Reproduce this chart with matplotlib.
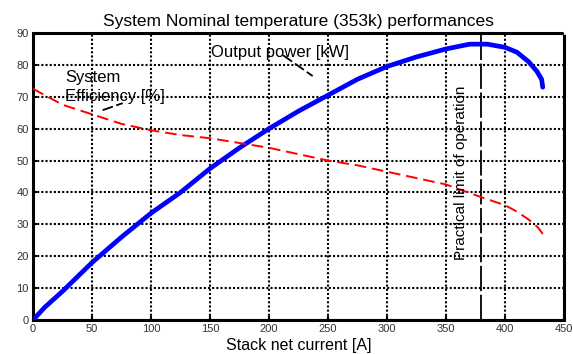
import matplotlib
matplotlib.use("Agg")
import matplotlib.pyplot as plt
import numpy as np

# Output power [kW] vs stack net current [A]
power_current = [0, 10, 25, 50, 75, 100, 125, 150, 175, 200, 225, 250, 275,
                 300, 325, 350, 370, 385, 400, 410, 420, 427, 431, 432]
power_kw = [0, 4, 9, 18, 26, 33.5, 40, 47.5, 54, 60, 65.5, 70.5, 75.5,
            79.5, 82.5, 85, 86.5, 86.5, 85.5, 84, 81, 78, 75.5, 73]

# System efficiency [%]
eff_current = [0, 5, 25, 50, 75, 100, 125, 150, 175, 200, 225, 250, 275,
               300, 325, 350, 380, 400, 410, 420, 428, 432]
eff_pct = [72.5, 71.5, 67.5, 64.5, 61.5, 59.5, 58, 57, 55.5, 54, 52, 50, 48.5,
           46.5, 44.5, 42.5, 38.5, 36, 34, 31.5, 29, 27]

limit_current = 380
xticks = np.arange(0, 451, 50)
yticks = np.arange(0, 91, 10)

plt.rcParams["font.family"] = ["Liberation Sans", "DejaVu Sans"]

fig = plt.figure(figsize=(5.73, 3.54), dpi=100)
ax = fig.add_axes([33 / 573, 1 - 320 / 354, (564 - 33) / 573, (320 - 33) / 354])

ax.plot(power_current, power_kw, color="#0000ff", linewidth=3.4,
        solid_capstyle="round", zorder=4)
ax.plot(eff_current, eff_pct, color="#ff0000", linewidth=1.4,
        linestyle=(0, (6, 3)), zorder=4)
ax.axvline(limit_current, color="black", linewidth=1.3,
           linestyle=(0, (14, 2)), zorder=3)

ax.set_xlim(0, 450)
ax.set_ylim(0, 90)
ax.set_xticks(xticks)
ax.set_yticks(yticks)
ax.tick_params(direction="in", length=3, width=1.5, labelsize=8,
               colors="black", labelcolor="#333333", pad=3)
ax.grid(True, color="black", linestyle=(0, (1, 1)), linewidth=1.5)
for sp in ax.spines.values():
    sp.set_linestyle((0, (1, 1)))
    sp.set_linewidth(2.2)

ax.set_title("System Nominal temperature (353k) performances", fontsize=12.5,
             pad=5)
ax.set_xlabel("Stack net current [A]", fontsize=11.5, labelpad=3)

# annotations
ax.text(151, 84, "Output power [kW]", fontsize=12, ha="left", va="center",
        zorder=5)
ax.plot([212, 237], [83, 76.5], color="black", linewidth=1.3,
        linestyle=(0, (6, 2)), zorder=5)
ax.text(27, 73, "System\nEfficiency [%]", fontsize=12, ha="left",
        va="center", linespacing=1.35, zorder=5)
ax.plot([59, 76], [65.8, 68], color="black", linewidth=1.3,
        linestyle=(0, (6, 2)), zorder=5)
ax.text(363, 46, "Practical limit of operation", fontsize=11, rotation=90,
        ha="center", va="center", zorder=5)

fig.savefig("out.png", dpi=100)
